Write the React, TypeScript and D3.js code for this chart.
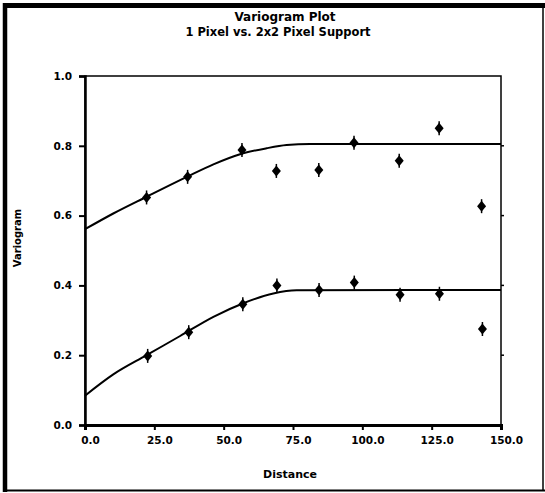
import { useEffect, useRef } from "react";
import * as d3 from "d3";

// observed variogram points, 1 pixel support (upper) and 2x2 pixel support (lower)
const lagDistances = [22.2, 37.0, 56.6, 69.0, 84.3, 97.0, 113.3, 127.7, 143.0];
const upperValues = [0.652, 0.711, 0.788, 0.728, 0.731, 0.809, 0.757, 0.85, 0.627];
const lowerLags = [22.6, 37.4, 56.9, 69.2, 84.4, 97.1, 113.6, 127.8, 143.3];
const lowerValues = [0.198, 0.266, 0.346, 0.4, 0.387, 0.408, 0.373, 0.376, 0.275];

// fitted model curves
const upperModelX = [0, 10.2, 22.2, 36.7, 46.3, 55.9, 65.5, 72.7, 81.1, 150];
const upperModelY = [0.561, 0.606, 0.654, 0.711, 0.747, 0.776, 0.793, 0.802, 0.805, 0.805];
const lowerModelX = [0, 10.2, 22.2, 34.3, 46.3, 57.1, 67.9, 76.3, 150];
const lowerModelY = [0.084, 0.145, 0.2, 0.255, 0.31, 0.349, 0.377, 0.386, 0.387];

const xTicks = [0, 25, 50, 75, 100, 125, 150];
const yTicks = [0, 0.2, 0.4, 0.6, 0.8, 1.0];

const App = () => {
  const svgRef = useRef<SVGSVGElement>(null);

  useEffect(() => {
    const width = 545;
    const height = 493;
    const font = "'DejaVu Sans', sans-serif";

    const svg = d3.select(svgRef.current);
    svg.selectAll("*").remove();
    svg.attr("width", width).attr("height", height);

    svg.append("rect").attr("width", width).attr("height", height).attr("fill", "#fff");

    // outer frame: heavy top/left, thin right/bottom
    const frame = svg.append("g").attr("stroke", "#000");
    frame.append("line").attr("x1", 3).attr("x2", 545).attr("y1", 5.5).attr("y2", 5.5).attr("stroke-width", 5);
    frame.append("line").attr("x1", 5).attr("x2", 5).attr("y1", 3).attr("y2", 492).attr("stroke-width", 4.5);
    frame.append("line").attr("x1", 543).attr("x2", 543).attr("y1", 3).attr("y2", 491).attr("stroke-width", 1.5);
    frame.append("line").attr("x1", 3).attr("x2", 545).attr("y1", 490.5).attr("y2", 490.5).attr("stroke-width", 2);

    const x = d3.scaleLinear().domain([0, 150]).range([85, 501]);
    const y = d3.scaleLinear().domain([0, 1]).range([425, 76]);

    // plot box
    svg.append("rect")
      .attr("x", x(0)).attr("y", y(1))
      .attr("width", x(150) - x(0)).attr("height", y(0) - y(1))
      .attr("fill", "none").attr("stroke", "#000").attr("stroke-width", 1.5);

    // x axis
    const xAxis = svg.append("g")
      .attr("transform", `translate(0,${y(0)})`)
      .call(d3.axisBottom(x).tickValues(xTicks).tickFormat(d3.format(".1f")).tickSize(5).tickPadding(7));
    xAxis.select(".domain").attr("stroke-width", 3);
    xAxis.selectAll(".tick line").attr("stroke-width", 2);
    xAxis.selectAll(".tick text")
      .attr("dx", 5)
      .style("font-family", font).style("font-weight", "bold").style("font-size", "10.5px");

    // y axis
    const yAxis = svg.append("g")
      .attr("transform", `translate(${x(0)},0)`)
      .call(d3.axisLeft(y).tickValues(yTicks).tickFormat(d3.format(".1f")).tickSize(6).tickPadding(7));
    yAxis.select(".domain").attr("stroke-width", 2.5);
    yAxis.selectAll(".tick line").attr("stroke-width", 2);
    yAxis.selectAll(".tick text")
      .style("font-family", font).style("font-weight", "bold").style("font-size", "10.5px");

    // small outward ticks on the right edge
    svg.append("g")
      .selectAll("line")
      .data(yTicks.slice(1, -1))
      .join("line")
      .attr("x1", x(150)).attr("x2", x(150) + 3)
      .attr("y1", d => y(d)).attr("y2", d => y(d))
      .attr("stroke", "#000").attr("stroke-width", 1.5);

    // model curves
    const line = d3.line<[number, number]>()
      .x(d => x(d[0]))
      .y(d => y(d[1]))
      .curve(d3.curveMonotoneX);

    const curves = [
      upperModelX.map((v, i) => [v, upperModelY[i]] as [number, number]),
      lowerModelX.map((v, i) => [v, lowerModelY[i]] as [number, number]),
    ];
    svg.append("g")
      .selectAll("path")
      .data(curves)
      .join("path")
      .attr("d", d => line(d))
      .attr("fill", "none")
      .attr("stroke", "#000")
      .attr("stroke-width", 2);

    // markers: diamond with a vertical stroke through it
    const points = [
      ...lagDistances.map((v, i) => [v, upperValues[i]]),
      ...lowerLags.map((v, i) => [v, lowerValues[i]]),
    ];
    const dp = d3.path();
    dp.moveTo(0, -5.5);
    dp.lineTo(4.5, 0);
    dp.lineTo(0, 5.5);
    dp.lineTo(-4.5, 0);
    dp.closePath();
    const marks = svg.append("g")
      .selectAll("g")
      .data(points)
      .join("g")
      .attr("transform", d => `translate(${x(d[0])},${y(d[1])})`);
    marks.append("path").attr("d", dp.toString()).attr("fill", "#000");
    marks.append("line")
      .attr("x1", 0).attr("x2", 0).attr("y1", -7).attr("y2", 7)
      .attr("stroke", "#000").attr("stroke-width", 1.5);

    // titles
    const text = svg.append("g")
      .style("font-family", font).style("font-weight", "bold").attr("fill", "#000");
    text.append("text")
      .attr("x", 285).attr("y", 21).attr("text-anchor", "middle")
      .style("font-size", "12px").text("Variogram Plot");
    text.append("text")
      .attr("x", 278).attr("y", 36).attr("text-anchor", "middle")
      .style("font-size", "11.5px").text("1 Pixel vs. 2x2 Pixel Support");
    text.append("text")
      .attr("x", 290).attr("y", 478).attr("text-anchor", "middle")
      .style("font-size", "11px").text("Distance");
    text.append("text")
      .attr("transform", "translate(21,238) rotate(-90)")
      .attr("text-anchor", "middle")
      .style("font-size", "10px").text("Variogram");
  }, []);

  return (
    <svg ref={svgRef} style={{ position: "absolute", left: 0, top: 0, display: "block" }}></svg>
  );
};

export default App;
